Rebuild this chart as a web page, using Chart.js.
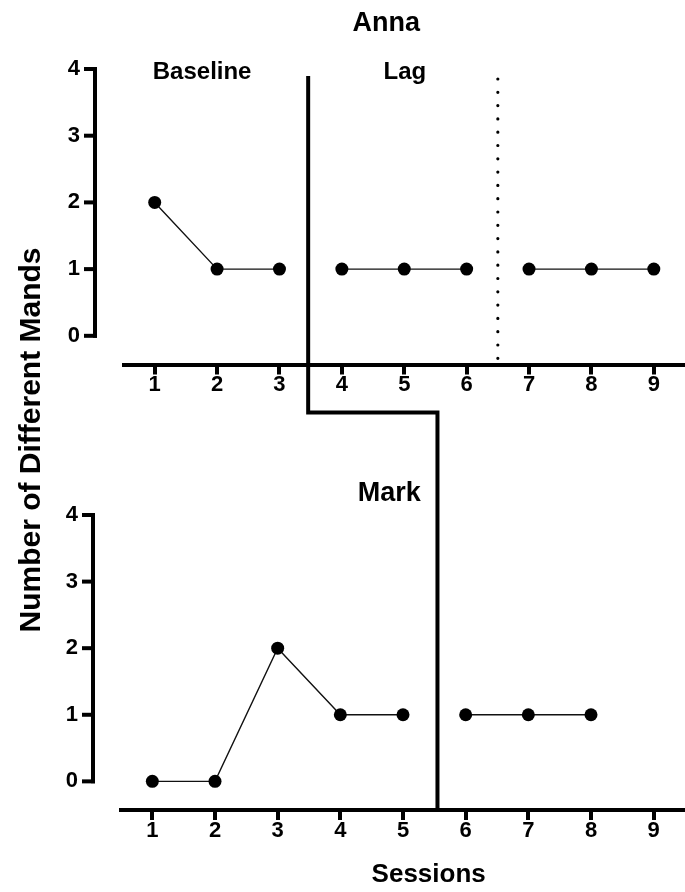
<!DOCTYPE html>
<html><head><meta charset="utf-8">
<script src="https://cdn.jsdelivr.net/npm/chart.js@4.4.1/dist/chart.umd.min.js"></script>
<style>
html,body{margin:0;padding:0;background:#fff;}
#wrap{position:relative;width:685px;height:892px;background:#fff;overflow:hidden;}
#wrap canvas{position:absolute;left:0;top:0;}
</style></head><body>
<div id="wrap"><canvas id="cTop" width="685" height="892"></canvas><canvas id="cBot" width="685" height="892"></canvas></div>
<script>
// ---------------- data ----------------
const sessions = [1, 2, 3, 4, 5, 6, 7, 8, 9];
const xTickLabels = ['1', '2', '3', '4', '5', '6', '7', '8', '9'];
const yTicks = [0, 1, 2, 3, 4];
const annaMands = [2, 1, 1, 1, 1, 1, 1, 1, 1];
const markMands = [0, 0, 2, 1, 1, 1, 1, 1, null];
const annaPhaseChanges = [3.46, 6.5];   // solid condition line, dotted line
const markPhaseChanges = [5.55];
const participantNames = ['Anna', 'Mark'];
const phaseLabels = ['Baseline', 'Lag'];
const yAxisTitle = 'Number of Different Mands';
const xAxisTitle = 'Sessions';

// ---------------- helpers ----------------
const FONT = "'Liberation Sans', Arial, Helvetica, sans-serif";
const AXW = 4;
Chart.defaults.font.family = FONT;
Chart.defaults.color = '#000';

function segments(values, breaks) {
  const edges = [-Infinity, ...breaks, Infinity];
  const segs = [];
  for (let i = 0; i < edges.length - 1; i++) {
    const pts = [];
    sessions.forEach((s, j) => {
      if (s > edges[i] && s < edges[i + 1] && values[j] != null) pts.push({x: s, y: values[j]});
    });
    if (pts.length) segs.push(pts);
  }
  return segs;
}
function datasets(values, breaks) {
  return segments(values, breaks).map(pts => ({
    data: pts, borderColor: '#111', borderWidth: 1.4, tension: 0,
    pointRadius: 6.5, pointHoverRadius: 6.5, pointBackgroundColor: '#000', pointBorderWidth: 0,
    clip: false, fill: false
  }));
}
function scales(leftW, padX, padY) {
  return {
    x: {
      type: 'linear', min: 0.5, max: 9.5,
      afterBuildTicks: s => { s.ticks = sessions.map(v => ({value: v})); },
      afterFit: s => { s.height = 40; },
      ticks: {
        autoSkip: false, maxRotation: 0, padding: padX, color: '#000',
        font: {family: FONT, size: 22, weight: 'bold'},
        callback: v => xTickLabels[sessions.indexOf(v)]
      },
      grid: {display: true, drawOnChartArea: false, drawTicks: true, tickLength: 10, lineWidth: AXW, color: '#000'},
      border: {display: true, width: AXW, color: '#000'}
    },
    y: {
      type: 'linear', min: -0.43, max: 4,
      afterBuildTicks: s => { s.ticks = yTicks.map(v => ({value: v})); },
      afterFit: s => { s.width = leftW; },
      ticks: {padding: padY, color: '#000', font: {family: FONT, size: 22, weight: 'bold'}},
      grid: {display: false, drawTicks: false},
      border: {display: false}
    }
  };
}
function drawYAxis(chart, offset) {
  const {ctx, chartArea} = chart;
  const ys = chart.scales.y;
  const x = chartArea.left - offset;
  ctx.save();
  ctx.strokeStyle = '#000'; ctx.lineWidth = AXW; ctx.lineCap = 'butt';
  ctx.beginPath();
  ctx.moveTo(x, ys.getPixelForValue(yTicks[yTicks.length - 1]) - AXW / 2);
  ctx.lineTo(x, ys.getPixelForValue(yTicks[0]) + AXW / 2);
  ctx.stroke();
  yTicks.forEach(v => {
    const py = ys.getPixelForValue(v);
    ctx.beginPath(); ctx.moveTo(x - 11, py); ctx.lineTo(x + AXW / 2, py); ctx.stroke();
  });
  ctx.restore();
}
function drawText(ctx, text, x, y, size, rot) {
  ctx.save();
  ctx.fillStyle = '#000';
  ctx.font = 'bold ' + size + 'px ' + FONT;
  ctx.textAlign = 'center'; ctx.textBaseline = 'alphabetic';
  ctx.translate(x, y);
  if (rot) ctx.rotate(rot);
  ctx.fillText(text, 0, 0);
  ctx.restore();
}

// ---------------- top panel (Anna) ----------------
const topChart = new Chart(document.getElementById('cTop'), {
  type: 'line',
  data: {datasets: datasets(annaMands, annaPhaseChanges)},
  options: {
    responsive: false, animation: false, devicePixelRatio: 1,
    layout: {autoPadding: false, padding: {top: 69, left: 0, right: 0, bottom: 892 - 364.5 - 40}},
    plugins: {legend: {display: false}, tooltip: {enabled: false}},
    scales: scales(123.5, -2.5, 43.5)
  },
  plugins: [{
    id: 'topDecor',
    afterDraw(chart) {
      const {ctx, chartArea} = chart;
      const xs = chart.scales.x;
      drawYAxis(chart, 28.5);
      // dotted phase line
      const dx = xs.getPixelForValue(annaPhaseChanges[1]);
      ctx.save();
      ctx.strokeStyle = '#000'; ctx.lineWidth = 3.2; ctx.lineCap = 'round';
      ctx.setLineDash([0, 13.3]);
      ctx.beginPath(); ctx.moveTo(dx, chartArea.top + 10); ctx.lineTo(dx, chartArea.bottom - 5); ctx.stroke();
      ctx.restore();
      drawText(ctx, participantNames[0], xs.getPixelForValue(4.71), 31, 27);
      drawText(ctx, phaseLabels[0], xs.getPixelForValue(1.76), 79, 24);
      drawText(ctx, phaseLabels[1], xs.getPixelForValue(5.01), 79, 24);
    }
  }]
});

// ---------------- bottom panel (Mark) ----------------
const botChart = new Chart(document.getElementById('cBot'), {
  type: 'line',
  data: {datasets: datasets(markMands, markPhaseChanges)},
  options: {
    responsive: false, animation: false, devicePixelRatio: 1,
    layout: {autoPadding: false, padding: {top: 515, left: 0, right: 0, bottom: 892 - 810 - 40}},
    plugins: {legend: {display: false}, tooltip: {enabled: false}},
    scales: scales(121, -2, 43)
  },
  plugins: [{
    id: 'botDecor',
    afterDraw(chart) {
      const {ctx, chartArea} = chart;
      const xs = chart.scales.x;
      drawYAxis(chart, 28);
      // stepped condition-change line across both panels
      const tx = topChart.scales.x.getPixelForValue(annaPhaseChanges[0]);
      const bx = xs.getPixelForValue(markPhaseChanges[0]);
      const ty = topChart.chartArea.top + 7;
      const my = topChart.chartArea.bottom + 48;
      ctx.save();
      ctx.strokeStyle = '#000'; ctx.lineWidth = AXW; ctx.lineJoin = 'miter'; ctx.lineCap = 'butt';
      ctx.beginPath(); ctx.moveTo(tx, ty); ctx.lineTo(tx, my); ctx.lineTo(bx, my); ctx.lineTo(bx, chartArea.bottom); ctx.stroke();
      ctx.restore();
      drawText(ctx, participantNames[1], xs.getPixelForValue(4.78), 501, 27);
      drawText(ctx, xAxisTitle, xs.getPixelForValue(5.41), 882, 26);
      drawText(ctx, yAxisTitle, 40, 440, 30, -Math.PI / 2);
    }
  }]
});
</script>
</body></html>
